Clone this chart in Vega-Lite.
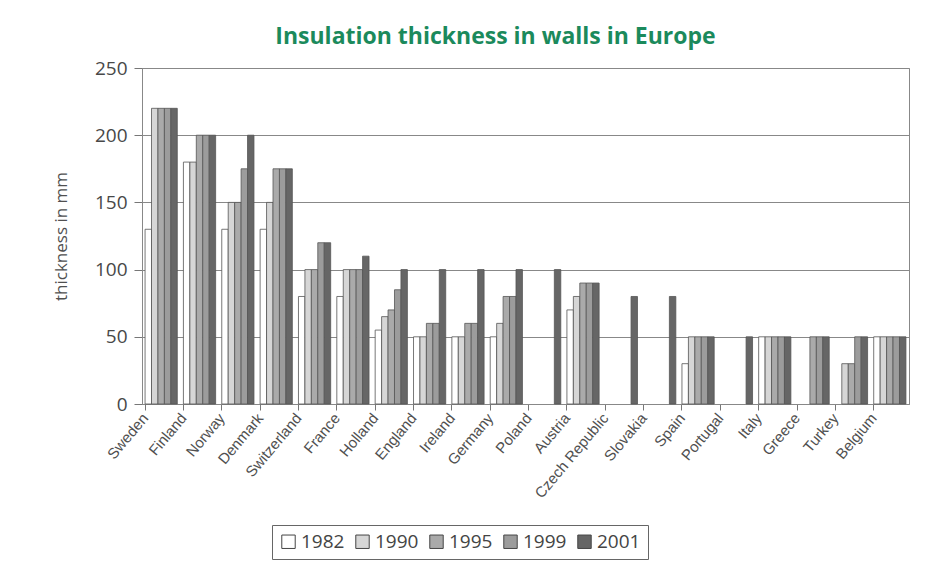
{
  "$schema": "https://vega.github.io/schema/vega-lite/v6.json",
  "autosize": "none",
  "width": 767,
  "height": 336,
  "padding": {"left": 142, "top": 68, "right": 24, "bottom": 164},
  "background": "white",
  "title": {
    "text": "Insulation thickness in walls in Europe",
    "color": "#1b8a5c",
    "font": "Open Sans",
    "fontSize": 23,
    "fontWeight": "bold",
    "anchor": "middle",
    "dx": -30,
    "offset": 10
  },
  "data": {
    "values": [
      {"country": "Sweden", "year": "1982", "mm": 130},
      {"country": "Sweden", "year": "1990", "mm": 220},
      {"country": "Sweden", "year": "1995", "mm": 220},
      {"country": "Sweden", "year": "1999", "mm": 220},
      {"country": "Sweden", "year": "2001", "mm": 220},
      {"country": "Finland", "year": "1982", "mm": 180},
      {"country": "Finland", "year": "1990", "mm": 180},
      {"country": "Finland", "year": "1995", "mm": 200},
      {"country": "Finland", "year": "1999", "mm": 200},
      {"country": "Finland", "year": "2001", "mm": 200},
      {"country": "Norway", "year": "1982", "mm": 130},
      {"country": "Norway", "year": "1990", "mm": 150},
      {"country": "Norway", "year": "1995", "mm": 150},
      {"country": "Norway", "year": "1999", "mm": 175},
      {"country": "Norway", "year": "2001", "mm": 200},
      {"country": "Denmark", "year": "1982", "mm": 130},
      {"country": "Denmark", "year": "1990", "mm": 150},
      {"country": "Denmark", "year": "1995", "mm": 175},
      {"country": "Denmark", "year": "1999", "mm": 175},
      {"country": "Denmark", "year": "2001", "mm": 175},
      {"country": "Switzerland", "year": "1982", "mm": 80},
      {"country": "Switzerland", "year": "1990", "mm": 100},
      {"country": "Switzerland", "year": "1995", "mm": 100},
      {"country": "Switzerland", "year": "1999", "mm": 120},
      {"country": "Switzerland", "year": "2001", "mm": 120},
      {"country": "France", "year": "1982", "mm": 80},
      {"country": "France", "year": "1990", "mm": 100},
      {"country": "France", "year": "1995", "mm": 100},
      {"country": "France", "year": "1999", "mm": 100},
      {"country": "France", "year": "2001", "mm": 110},
      {"country": "Holland", "year": "1982", "mm": 55},
      {"country": "Holland", "year": "1990", "mm": 65},
      {"country": "Holland", "year": "1995", "mm": 70},
      {"country": "Holland", "year": "1999", "mm": 85},
      {"country": "Holland", "year": "2001", "mm": 100},
      {"country": "England", "year": "1982", "mm": 50},
      {"country": "England", "year": "1990", "mm": 50},
      {"country": "England", "year": "1995", "mm": 60},
      {"country": "England", "year": "1999", "mm": 60},
      {"country": "England", "year": "2001", "mm": 100},
      {"country": "Ireland", "year": "1982", "mm": 50},
      {"country": "Ireland", "year": "1990", "mm": 50},
      {"country": "Ireland", "year": "1995", "mm": 60},
      {"country": "Ireland", "year": "1999", "mm": 60},
      {"country": "Ireland", "year": "2001", "mm": 100},
      {"country": "Germany", "year": "1982", "mm": 50},
      {"country": "Germany", "year": "1990", "mm": 60},
      {"country": "Germany", "year": "1995", "mm": 80},
      {"country": "Germany", "year": "1999", "mm": 80},
      {"country": "Germany", "year": "2001", "mm": 100},
      {"country": "Poland", "year": "2001", "mm": 100},
      {"country": "Austria", "year": "1982", "mm": 70},
      {"country": "Austria", "year": "1990", "mm": 80},
      {"country": "Austria", "year": "1995", "mm": 90},
      {"country": "Austria", "year": "1999", "mm": 90},
      {"country": "Austria", "year": "2001", "mm": 90},
      {"country": "Czech Republic", "year": "2001", "mm": 80},
      {"country": "Slovakia", "year": "2001", "mm": 80},
      {"country": "Spain", "year": "1982", "mm": 30},
      {"country": "Spain", "year": "1990", "mm": 50},
      {"country": "Spain", "year": "1995", "mm": 50},
      {"country": "Spain", "year": "1999", "mm": 50},
      {"country": "Spain", "year": "2001", "mm": 50},
      {"country": "Portugal", "year": "2001", "mm": 50},
      {"country": "Italy", "year": "1982", "mm": 50},
      {"country": "Italy", "year": "1990", "mm": 50},
      {"country": "Italy", "year": "1995", "mm": 50},
      {"country": "Italy", "year": "1999", "mm": 50},
      {"country": "Italy", "year": "2001", "mm": 50},
      {"country": "Greece", "year": "1995", "mm": 50},
      {"country": "Greece", "year": "1999", "mm": 50},
      {"country": "Greece", "year": "2001", "mm": 50},
      {"country": "Turkey", "year": "1990", "mm": 30},
      {"country": "Turkey", "year": "1995", "mm": 30},
      {"country": "Turkey", "year": "1999", "mm": 50},
      {"country": "Turkey", "year": "2001", "mm": 50},
      {"country": "Belgium", "year": "1982", "mm": 50},
      {"country": "Belgium", "year": "1990", "mm": 50},
      {"country": "Belgium", "year": "1995", "mm": 50},
      {"country": "Belgium", "year": "1999", "mm": 50},
      {"country": "Belgium", "year": "2001", "mm": 50}
    ]
  },
  "mark": {"type": "bar", "stroke": "#555555", "strokeWidth": 0.8},
  "encoding": {
    "x": {
      "field": "country",
      "type": "nominal",
      "sort": null,
      "scale": {"paddingInner": 0.16, "paddingOuter": 0.08},
      "axis": {
        "title": null,
        "bandPosition": 0,
        "labelAngle": -50,
        "labelAlign": "right",
        "labelBaseline": "middle",
        "labelOffset": -16,
        "labelFont": "Liberation Sans",
        "labelFontSize": 15,
        "labelColor": "#505050",
        "labelPadding": 5,
        "tickSize": 6,
        "tickColor": "#777777",
        "domainColor": "#888888",
        "grid": false
      }
    },
    "xOffset": {"field": "year", "type": "nominal"},
    "y": {
      "field": "mm",
      "type": "quantitative",
      "scale": {"domain": [0, 250], "nice": false},
      "axis": {
        "title": "thickness in mm",
        "titleFont": "Open Sans",
        "titleFontSize": 17,
        "titleFontWeight": "normal",
        "titleColor": "#505050",
        "titlePadding": 24,
        "values": [0, 50, 100, 150, 200, 250],
        "labelFont": "Open Sans",
        "labelFontSize": 19,
        "labelColor": "#484848",
        "labelPadding": 7,
        "tickSize": 8,
        "tickColor": "#777777",
        "domainColor": "#888888",
        "gridColor": "#888888",
        "gridWidth": 1
      }
    },
    "color": {
      "field": "year",
      "type": "nominal",
      "scale": {
        "domain": ["1982", "1990", "1995", "1999", "2001"],
        "range": ["#ffffff", "#d6d6d6", "#aaaaaa", "#9c9c9c", "#666666"]
      },
      "legend": {
        "title": null,
        "orient": "none",
        "legendX": 130,
        "legendY": 457,
        "direction": "horizontal",
        "symbolType": "square",
        "symbolSize": 180,
        "symbolStrokeColor": "#444444",
        "symbolStrokeWidth": 1,
        "labelFont": "Open Sans",
        "labelFontSize": 19,
        "labelColor": "#444444",
        "columnPadding": 8,
        "labelOffset": 3,
        "strokeColor": "#666666",
        "padding": 7
      }
    }
  },
  "config": {
    "view": {"stroke": "#888888", "strokeWidth": 1}
  }
}
